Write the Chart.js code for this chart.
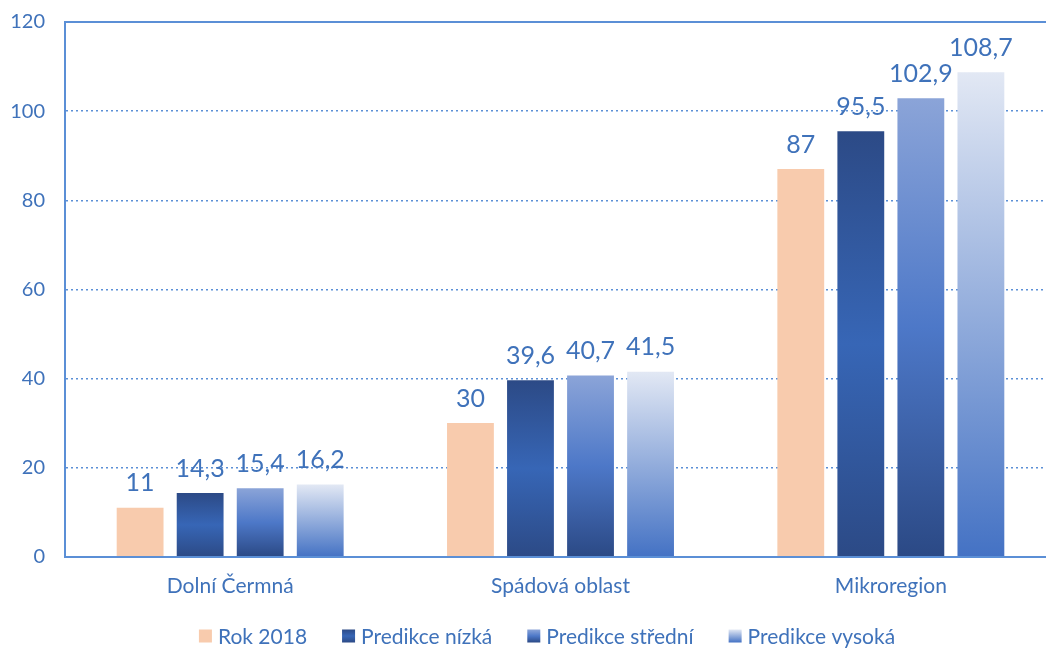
<!DOCTYPE html>
<html lang="cs">
<head>
<meta charset="UTF-8">
<title>Predikce</title>
<script src="https://cdn.jsdelivr.net/npm/chart.js"></script>
<style>
    html, body { margin: 0; padding: 0; background: #fff; overflow: hidden; }
    .chart-box { width: 1056px; height: 651px; }
</style>
</head>
<body>
<div class="chart-box"><canvas id="chart"></canvas></div>
<script>
    const categories = ['Dolní Čermná', 'Spádová oblast', 'Mikroregion'];
    const seriesNames = ['Rok 2018', 'Predikce nízká', 'Predikce střední', 'Predikce vysoká'];
    const rok2018 = [11, 30, 87];
    const predNizka = [14.3, 39.6, 95.5];
    const predStredni = [15.4, 40.7, 102.9];
    const predVysoka = [16.2, 41.5, 108.7];
    const yTicks = [0, 20, 40, 60, 80, 100, 120];

    const blueText = '#3f72ba';
    const axisBlue = '#5b8fd6';
    const fontFamily = 'Lato, "Open Sans", sans-serif';

    // gradient stops per series, top -> bottom
    const gradStops = [
        null,
        ['#2c4a86', '#3766b6', '#2c4a86'],
        ['#8ba4d8', '#4d78c8', '#2b4985'],
        ['#e2e8f4', '#4472c4']
    ];
    const solidColors = ['#f8cbad', '#2f5597', '#4a74c4', '#b4c6e7'];

    function barFill(seriesIdx) {
        return function (ctx) {
            if (seriesIdx === 0) return solidColors[0];
            if (ctx.type !== 'data' || !ctx.chart.scales.y) return solidColors[seriesIdx];
            const y = ctx.chart.scales.y;
            const top = y.getPixelForValue(ctx.raw);
            const base = y.getPixelForValue(0);
            if (!isFinite(top) || base - top < 1) return solidColors[seriesIdx];
            const g = ctx.chart.ctx.createLinearGradient(0, top, 0, base);
            const stops = gradStops[seriesIdx];
            stops.forEach((c, i) => g.addColorStop(i / (stops.length - 1), c));
            return g;
        };
    }

    const allSeries = [rok2018, predNizka, predStredni, predVysoka];

    // value labels above bars
    const valueLabels = {
        id: 'valueLabels',
        afterDatasetsDraw(chart) {
            const c = chart.ctx;
            c.save();
            c.fillStyle = blueText;
            c.font = '25px ' + fontFamily;
            c.textAlign = 'center';
            c.textBaseline = 'bottom';
            chart.data.datasets.forEach((ds, di) => {
                chart.getDatasetMeta(di).data.forEach((bar, i) => {
                    const txt = String(ds.data[i]).replace('.', ',');
                    c.fillText(txt, bar.x, bar.y - 12);
                });
            });
            c.restore();
        }
    };

    // top border + legend row under the axis
    const frameAndLegend = {
        id: 'frameAndLegend',
        afterDraw(chart) {
            const a = chart.chartArea;
            const c = chart.ctx;
            c.save();
            c.strokeStyle = axisBlue;
            c.lineWidth = 2;
            c.beginPath();
            c.moveTo(a.left - 1, a.top);
            c.lineTo(a.right, a.top);
            c.stroke();

            // legend
            c.font = '21px ' + fontFamily;
            c.textBaseline = 'middle';
            c.textAlign = 'left';
            const box = 13, gap = 6, itemGap = 35;
            const widths = seriesNames.map(n => box + gap + c.measureText(n).width);
            const total = widths.reduce((s, w) => s + w, 0) + itemGap * (widths.length - 1);
            let x = 547 - total / 2;
            const y = 636;
            seriesNames.forEach((n, i) => {
                if (i === 0) {
                    c.fillStyle = solidColors[0];
                } else {
                    const g = c.createLinearGradient(0, y - box / 2, 0, y + box / 2);
                    const stops = gradStops[i];
                    stops.forEach((col, k) => g.addColorStop(k / (stops.length - 1), col));
                    c.fillStyle = g;
                }
                c.fillRect(x, y - box / 2, box, box);
                c.fillStyle = blueText;
                c.fillText(n, x + box + gap, y + 1);
                x += widths[i] + itemGap;
            });
            c.restore();
        }
    };

    new Chart(document.getElementById('chart'), {
        type: 'bar',
        data: {
            labels: categories,
            datasets: allSeries.map((vals, i) => ({
                label: seriesNames[i],
                data: vals,
                backgroundColor: barFill(i),
                borderWidth: 0,
                categoryPercentage: 0.727,
                barPercentage: 0.78
            }))
        },
        options: {
            responsive: true,
            maintainAspectRatio: false,
            animation: false,
            layout: { padding: { left: 10, right: 0, top: 22, bottom: 43 } },
            scales: {
                x: {
                    grid: { display: false },
                    border: { color: axisBlue, width: 2 },
                    ticks: { color: blueText, font: { family: fontFamily, size: 21 }, padding: 9 }
                },
                y: {
                    min: 0,
                    max: 120,
                    afterBuildTicks(scale) { scale.ticks = yTicks.map(v => ({ value: v })); },
                    afterFit(scale) {
                        scale.width = 55;
                        scale.paddingTop = 0;
                        scale.paddingBottom = 0;
                    },
                    grid: {
                        color: (ctx) => (ctx.tick && (ctx.tick.value === 0 || ctx.tick.value === 120)) ? 'rgba(0,0,0,0)' : axisBlue,
                        lineWidth: 1.5,
                        drawTicks: false
                    },
                    border: { color: axisBlue, width: 2, dash: [2, 3] },
                    ticks: { color: blueText, font: { family: fontFamily, size: 20 }, padding: 20 }
                }
            },
            plugins: {
                legend: { display: false },
                tooltip: { enabled: false }
            }
        },
        plugins: [valueLabels, frameAndLegend]
    });
</script>
</body>
</html>
